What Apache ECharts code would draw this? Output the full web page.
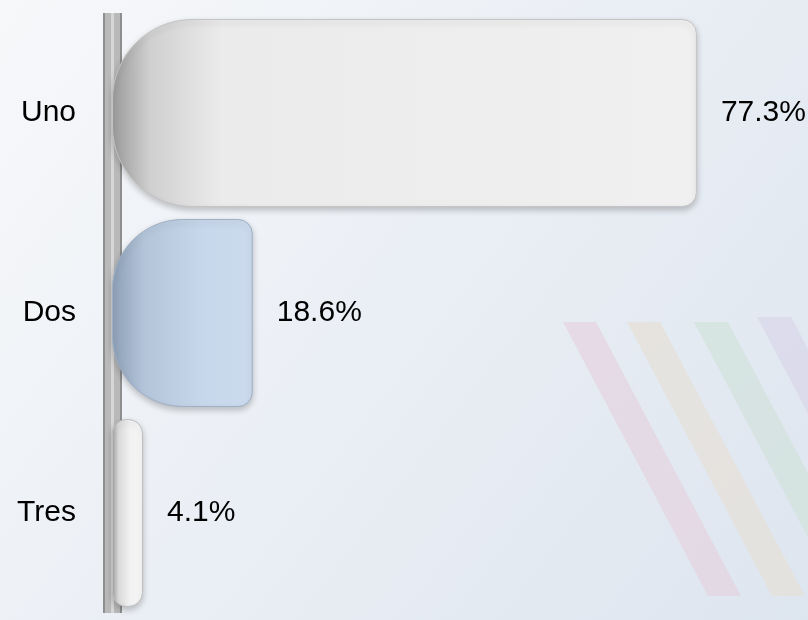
<!DOCTYPE html>
<html>
<head>
<meta charset="utf-8">
<script src="https://cdn.jsdelivr.net/npm/echarts@6/dist/echarts.min.js"></script>
<style>html,body{margin:0;padding:0;}#c{width:808px;height:620px;}</style>
</head>
<body>
<div id="c"></div>
<script>
const categories = ['Uno', 'Dos', 'Tres'];
const values = [77.3, 18.6, 4.1];
const valueLabels = ['77.3%', '18.6%', '4.1%'];

const X_MAX = 90;
const PLOT_W = 808 - 112 - 15;

const barStyles = [
  {stops: ['#9a9a9a', '#d0d0d0', '#ebebeb', '#f0f0f0'], shade: 110, border: '#c4c4c4', rl: 80, rr: 14},
  {stops: ['#8c9fb6', '#b3c4d9', '#c7d7eb', '#cbdaed'], shade: 90, border: '#9fb0c4', rl: 70, rr: 14},
  {stops: ['#9e9e9e', '#d8d8d8', '#f2f2f2', '#f6f6f6'], shade: 18, border: '#bdbdbd', rl: 14, rr: 14}
];

function grad(s, barPx) {
  const f = Math.min(1, s.shade / barPx);
  return {
    type: 'linear', x: 0, y: 0, x2: 1, y2: 0,
    colorStops: [
      {offset: 0, color: s.stops[0]},
      {offset: f * 0.35, color: s.stops[1]},
      {offset: f, color: s.stops[2]},
      {offset: 1, color: s.stops[3]}
    ]
  };
}

const data = values.map((v, i) => ({
  value: v,
  label: {formatter: valueLabels[i]},
  itemStyle: {
    color: grad(barStyles[i], v * PLOT_W / X_MAX),
    borderColor: barStyles[i].border,
    borderWidth: 1,
    borderRadius: [barStyles[i].rl, barStyles[i].rr, barStyles[i].rr, barStyles[i].rl],
    shadowColor: 'rgba(0,0,0,0.22)',
    shadowBlur: 6,
    shadowOffsetY: 3
  }
}));

const chart = echarts.init(document.getElementById('c'));
chart.setOption({
  backgroundColor: {
    type: 'linear', x: 0, y: 0, x2: 1, y2: 1,
    colorStops: [{offset: 0, color: '#f7f8fa'}, {offset: 1, color: '#dde5ef'}]
  },
  animation: false,
  graphic: [
    {type: 'polygon', z: -10, shape: {points: [[563,322],[596,322],[741,596],[708,596]]}, style: {fill: '#e4d4e0', opacity: 0.75}},
    {type: 'polygon', z: -10, shape: {points: [[627,322],[660,322],[805,596],[772,596]]}, style: {fill: '#e6e0d8', opacity: 0.75}},
    {type: 'polygon', z: -10, shape: {points: [[694,322],[728,322],[873,596],[839,596]]}, style: {fill: '#d2e1dc', opacity: 0.75}},
    {type: 'polygon', z: -10, shape: {points: [[757,317],[791,317],[936,591],[902,591]]}, style: {fill: '#dad7ea', opacity: 0.75}}
  ],
  grid: {left: 112, right: 15, top: 13, bottom: 7, containLabel: false},
  xAxis: {type: 'value', min: 0, max: X_MAX, show: false},
  yAxis: [
    {
      type: 'category', data: categories, inverse: true,
      axisLine: {show: true, lineStyle: {color: '#8e8e8e', width: 19, cap: 'butt'}},
      axisTick: {show: false},
      axisLabel: {color: '#000', fontSize: 30, fontFamily: 'Liberation Sans, Arial, sans-serif', margin: 36}
    },
    {
      type: 'category', data: categories, inverse: true, position: 'left',
      axisLine: {show: true, lineStyle: {color: '#b9b9b9', width: 15, cap: 'butt'}},
      axisTick: {show: false}, axisLabel: {show: false}
    },
    {
      type: 'category', data: categories, inverse: true, position: 'left',
      axisLine: {show: true, lineStyle: {color: '#d6d6d6', width: 3, cap: 'butt'}},
      axisTick: {show: false}, axisLabel: {show: false}
    }
  ],
  series: [{
    type: 'bar',
    data: data,
    barWidth: 188,
    label: {
      show: true, position: 'right', distance: 24,
      color: '#000', fontSize: 30, fontFamily: 'Liberation Sans, Arial, sans-serif'
    }
  }]
});
</script>
</body>
</html>
